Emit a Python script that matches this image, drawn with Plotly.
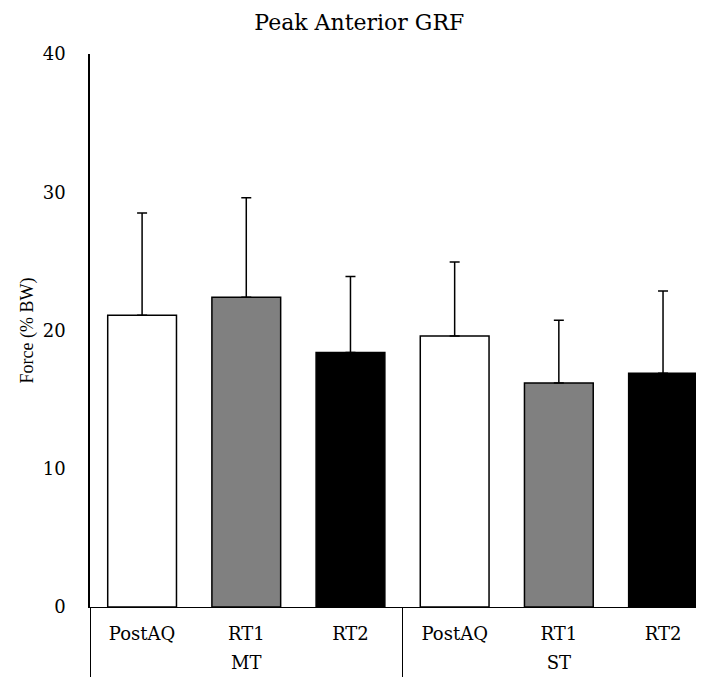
import plotly.graph_objects as go

groups = ["MT", "MT", "MT", "ST", "ST", "ST"]
conditions = ["PostAQ", "RT1", "RT2", "PostAQ", "RT1", "RT2"]
means = [21.1, 22.4, 18.4, 19.6, 16.2, 16.9]
sds = [7.4, 7.2, 5.5, 5.35, 4.55, 5.95]
bar_colors = ["white", "#808080", "black", "white", "#808080", "black"]

group_names = list(dict.fromkeys(groups))
keys = [f"{g} {c}" for g, c in zip(groups, conditions)]

FONT = "DejaVu Serif, serif"
YFONT = "Liberation Serif, serif"

fig = go.Figure()
fig.add_trace(go.Bar(
    x=keys,
    y=means,
    width=0.66,
    marker=dict(color=bar_colors, line=dict(color="black", width=1.5)),
    error_y=dict(type="data", array=sds, symmetric=False, arrayminus=[0]*6,
                 color="black", thickness=1.5, width=5),
    showlegend=False,
))
# invisible trace carrying the group axis
fig.add_trace(go.Scatter(
    x=group_names, y=[None]*len(group_names), xaxis="x2", yaxis="y",
    mode="markers", showlegend=False, hoverinfo="skip",
))

fig.update_layout(
    width=704, height=677,
    margin=dict(l=82, r=0, t=46, b=78, autoexpand=False),
    plot_bgcolor="white", paper_bgcolor="white",
    font=dict(family=FONT, size=18, color="black"),
    title=dict(text="Peak Anterior GRF", x=0.499, xref="container", y=0.979,
               yref="container", xanchor="center", yanchor="middle",
               font=dict(family=FONT, size=22, color="black")),
    xaxis=dict(type="category", categoryorder="array", categoryarray=keys,
               tickvals=keys, ticktext=conditions,
               range=[-0.5, 5.47], showline=True,
               linecolor="black", linewidth=1.2, showgrid=False, ticks="",
               ticklabelstandoff=10,
               tickfont=dict(family=FONT, size=18, color="black")),
    xaxis2=dict(type="category", categoryorder="array", categoryarray=group_names,
                overlaying="x", side="bottom", anchor="y",
                range=[-0.5, -0.5 + 5.97 / 3], showline=False, showgrid=False,
                tickson="boundaries", ticks="outside", ticklen=80,
                tickcolor="black", tickwidth=1.2,
                ticklabelstandoff=43,
                tickfont=dict(family=FONT, size=18, color="black")),
    yaxis=dict(range=[0, 40], tickvals=[0, 10, 20, 30, 40], showline=True,
               linecolor="black", linewidth=1.5, showgrid=False, zeroline=False,
               ticks="", ticklabelstandoff=19,
               title=dict(text="Force (% BW)", standoff=4,
                          font=dict(family=YFONT, size=18, color="black")),
               tickfont=dict(family=FONT, size=18, color="black")),
)

fig.write_html("out.html")
